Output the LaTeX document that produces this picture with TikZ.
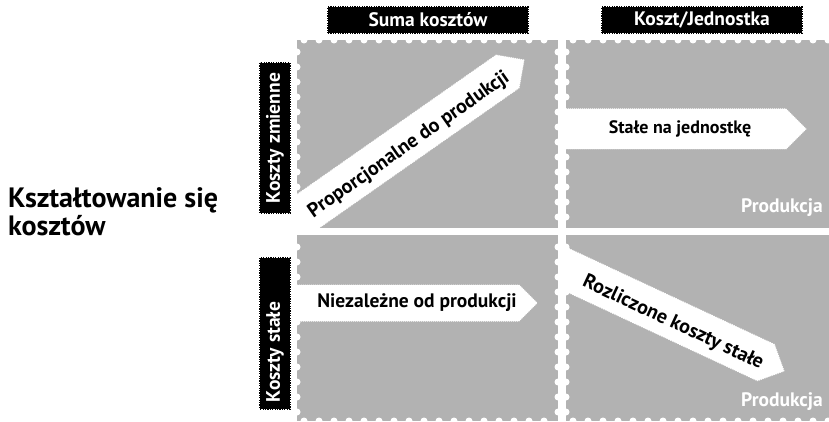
\documentclass[tikz,border=0pt]{standalone}
\usepackage{fontspec}
\setmainfont{PT Sans}
\usetikzlibrary{positioning}

\definecolor{panelgray}{HTML}{B2B2B2}

\begin{document}
\begin{tikzpicture}[
  x=1pt, y=-1pt,
  panel/.style={fill=panelgray},
  hole/.style={fill=white},
  tag/.style={fill=black, draw=black, line width=1.2pt, dash pattern=on 1.2pt off 1.2pt,
    text=white, font=\bfseries\fontsize{19.5}{22}\selectfont, inner sep=0pt},
  band/.style={fill=white, draw=white, line width=1pt, dash pattern=on 1pt off 1pt},
  bandtext/.style={font=\bfseries\fontsize{19.5}{22}\selectfont, inner sep=0pt},
  slanttext/.style={font=\bfseries\fontsize{20}{22}\selectfont, inner sep=0pt},
  axislab/.style={text=white, font=\bfseries\fontsize{19.5}{22}\selectfont, anchor=base east, inner sep=0pt}
]
\useasboundingbox (0,0) rectangle (829,422);

% Panels
\fill[panel] (297,40) rectangle (558,228);
\fill[panel] (566,40) rectangle (829,228);
\fill[panel] (297,235) rectangle (558,421);
\fill[panel] (566,235) rectangle (829,421);

% Perforated edges
\foreach \x in {304,319,...,556,573,588,...,829} {
  \fill[hole] (\x,40) circle[radius=3.5pt];
  \fill[hole] (\x,421) circle[radius=3.5pt];
}
\foreach \x in {297,558,566} {
  \foreach \y in {52,67,...,222,247,262,...,415}
    \fill[hole] (\x,\y) circle[radius=3.5pt];
}

% Rising band
\begin{scope}
  \clip (297,40) rectangle (558,228);
  \begin{scope}[shift={(524,60)}, rotate=35]
    \draw[band] (0,0) -- (-20,-20) -- (-320,-20) -- (-320,20) -- (-20,20) -- cycle;
  \end{scope}
\end{scope}
\node[slanttext, rotate=35] (prop) at (409,145) {Proporcjonalne do produkcji};

% Flat bands
\draw[band] (566,109) -- (786,109) -- (806,129) -- (786,149) -- (566,149) -- cycle;
\node[bandtext, font=\bfseries\fontsize{18}{20}\selectfont] (unit) at (680,129) {Stałe na jednostkę};
\draw[band] (297,285) -- (519,285) -- (537,303) -- (519,321) -- (297,321) -- cycle;
\node[bandtext] (indep) at (417,303) {Niezależne od produkcji};

% Falling band
\begin{scope}
  \clip (566,235) rectangle (829,421);
  \begin{scope}[shift={(784,371)}, rotate=-25]
    \draw[band] (0,0) -- (-20,-20) -- (-320,-20) -- (-320,20) -- (-20,20) -- cycle;
  \end{scope}
\end{scope}
\node[slanttext, rotate=-25] (spread) at (673,323) {Rozliczone koszty stałe};

% Axis labels
\node[axislab] (prodtop) at (823,212) {Produkcja};
\node[axislab] (prodbot) at (823,406) {Produkcja};

% Column and row headers
\node[tag, minimum width=200pt, minimum height=26pt] (total) at (428,20) {Suma kosztów};
\node[tag, minimum width=200pt, minimum height=26pt] (perunit) at (702,20) {Koszt/Jednostka};
\node[tag, rotate=90, minimum width=150pt, minimum height=30pt] (variable) at (275,138) {Koszty zmienne};
\node[tag, rotate=90, minimum height=30pt, inner xsep=7pt] (fixed) at (275,333.5)
  {\makebox[137pt][l]{Koszty stałe}};

% Title
\node[font=\bfseries\fontsize{28}{28}\selectfont, align=left, anchor=base west, inner sep=0pt]
  (title) at (8,235) {Kształtowanie się\\kosztów};
\end{tikzpicture}
\end{document}
